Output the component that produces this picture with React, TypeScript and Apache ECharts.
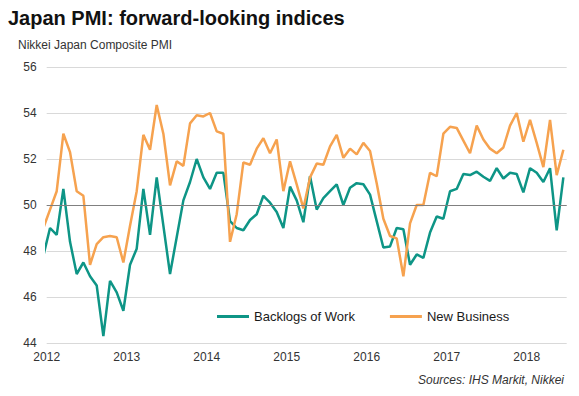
import React, { useEffect, useRef } from "react";
import * as echarts from "echarts";

// Monthly values, Dec 2011 (clipped at the left edge) through Jun 2018
const startYear = 2012;
const yearTicks = ["2012", "2013", "2014", "2015", "2016", "2017", "2018"];
const backlogsOfWork = [
  47.8,
  49.0, 48.7, 50.7, 48.4, 47.0, 47.5, 46.9, 46.5, 44.3, 46.7, 46.2, 45.4,
  47.4, 48.1, 50.7, 48.7, 51.2, 49.1, 47.0, 48.6, 50.2, 51.0, 52.0, 51.2,
  50.7, 51.4, 51.4, 49.3, 49.0, 48.9, 49.35, 49.6, 50.4, 50.1, 49.7, 49.0,
  50.8, 50.2, 49.25, 51.25, 49.8, 50.3, 50.6, 50.9, 50.0, 50.75, 50.95, 50.9,
  50.45, 49.3, 48.15, 48.2, 49.0, 48.95, 47.4, 47.85, 47.7, 48.8, 49.5, 49.4,
  50.6, 50.7, 51.35, 51.3, 51.45, 51.23, 51.05, 51.6, 51.15, 51.4, 51.35, 50.55,
  51.6, 51.4, 51.0, 51.6, 48.9, 51.2,
];
const newBusiness = [
  49.0,
  49.8, 50.6, 53.1, 52.3, 50.6, 50.4, 47.4, 48.3, 48.6, 48.65, 48.6, 47.5,
  49.1, 50.6, 53.05, 52.4, 54.35, 53.1, 50.85, 51.9, 51.7, 53.55, 53.9, 53.85,
  54.0, 53.2, 53.1, 48.4, 49.6, 51.85, 51.75, 52.45, 52.9, 52.25, 52.85, 50.6,
  51.9, 50.9, 49.85, 51.2, 51.8, 51.75, 52.55, 53.05, 52.05, 52.45, 52.2, 52.7,
  52.35, 50.95, 49.4, 48.65, 48.55, 46.9, 49.2, 50.0, 50.0, 51.4, 51.25, 53.1,
  53.4, 53.35, 52.8, 52.25, 53.45, 52.85, 52.45, 52.25, 52.5, 53.45, 54.0, 52.75,
  53.7, 52.7, 51.65, 53.7, 51.3, 52.4,
];

const FONT = "'Liberation Sans', Arial, Helvetica, sans-serif";
const TEAL = "#0e9586";
const ORANGE = "#f6a24f";

// month index: 0 = start of Jan 2012; points plotted mid-month; first value is Dec 2011
const toPairs = (arr: number[]) => arr.map((v, i) => [i - 1 + 0.5, v]);

export default function App() {
  const ref = useRef<HTMLDivElement>(null);
  useEffect(() => {
    if (!ref.current) return;
    const chart = echarts.init(ref.current, null, { renderer: "svg" });
    chart.setOption({
      animation: false,
      backgroundColor: "#ffffff",
      textStyle: { fontFamily: FONT },
      graphic: [
        {
          type: "text",
          x: 8,
          y: 18,
          style: {
            text: "Japan PMI: forward-looking indices",
            fontFamily: FONT,
            fontSize: 20,
            fontWeight: "bold",
            fill: "#111111",
            align: "left",
            verticalAlign: "middle",
          },
        },
        {
          type: "text",
          x: 18,
          y: 45,
          style: {
            text: "Nikkei Japan Composite PMI",
            fontFamily: FONT,
            fontSize: 12,
            fill: "#333333",
            align: "left",
            verticalAlign: "middle",
          },
        },
        {
          type: "text",
          x: 564,
          y: 380,
          style: {
            text: "Sources: IHS Markit, Nikkei",
            fontFamily: FONT,
            fontSize: 12,
            fontStyle: "italic",
            fill: "#333333",
            align: "right",
            verticalAlign: "middle",
          },
        },
      ],
      legend: {
        left: 217,
        top: 310,
        padding: 0,
        icon: "rect",
        itemWidth: 32,
        itemHeight: 3,
        itemGap: 35,
        textStyle: { fontFamily: FONT, fontSize: 13, color: "#1a1a1a" },
        data: ["Backlogs of Work", "New Business"],
      },
      grid: { left: 46.7, right: 12.3, top: 67, bottom: 53, containLabel: false },
      xAxis: {
        type: "value",
        min: 0,
        max: 78,
        interval: 12,
        axisLine: { show: false },
        axisTick: { show: false },
        splitLine: { show: false },
        axisLabel: {
          margin: 8,
          fontSize: 12,
          color: "#333333",
          fontFamily: FONT,
          showMaxLabel: false,
          formatter: (v: number) =>
            v % 12 === 0 ? yearTicks[v / 12] ?? String(startYear + v / 12) : "",
        },
      },
      yAxis: {
        type: "value",
        min: 44,
        max: 56,
        interval: 2,
        axisLine: { show: false },
        axisTick: { show: false },
        splitLine: { lineStyle: { color: "#d9d9d9", width: 1 } },
        axisLabel: { margin: 10, fontSize: 12, color: "#333333", fontFamily: FONT },
      },
      series: [
        {
          name: "Backlogs of Work",
          type: "line",
          data: toPairs(backlogsOfWork),
          showSymbol: false,
          symbol: "none",
          lineStyle: { color: TEAL, width: 2.5 },
          itemStyle: { color: TEAL },
          clip: true,
          markLine: {
            silent: true,
            symbol: "none",
            label: { show: false },
            lineStyle: { color: "#808080", width: 1, type: "solid" },
            data: [{ yAxis: 50 }],
          },
        },
        {
          name: "New Business",
          type: "line",
          data: toPairs(newBusiness),
          showSymbol: false,
          symbol: "none",
          lineStyle: { color: ORANGE, width: 2.5 },
          itemStyle: { color: ORANGE },
          clip: true,
        },
      ],
    });
    return () => chart.dispose();
  }, []);
  return (
    <div
      ref={ref}
      style={{ position: "fixed", left: 0, top: 0, width: 579, height: 396 }}
    />
  );
}
